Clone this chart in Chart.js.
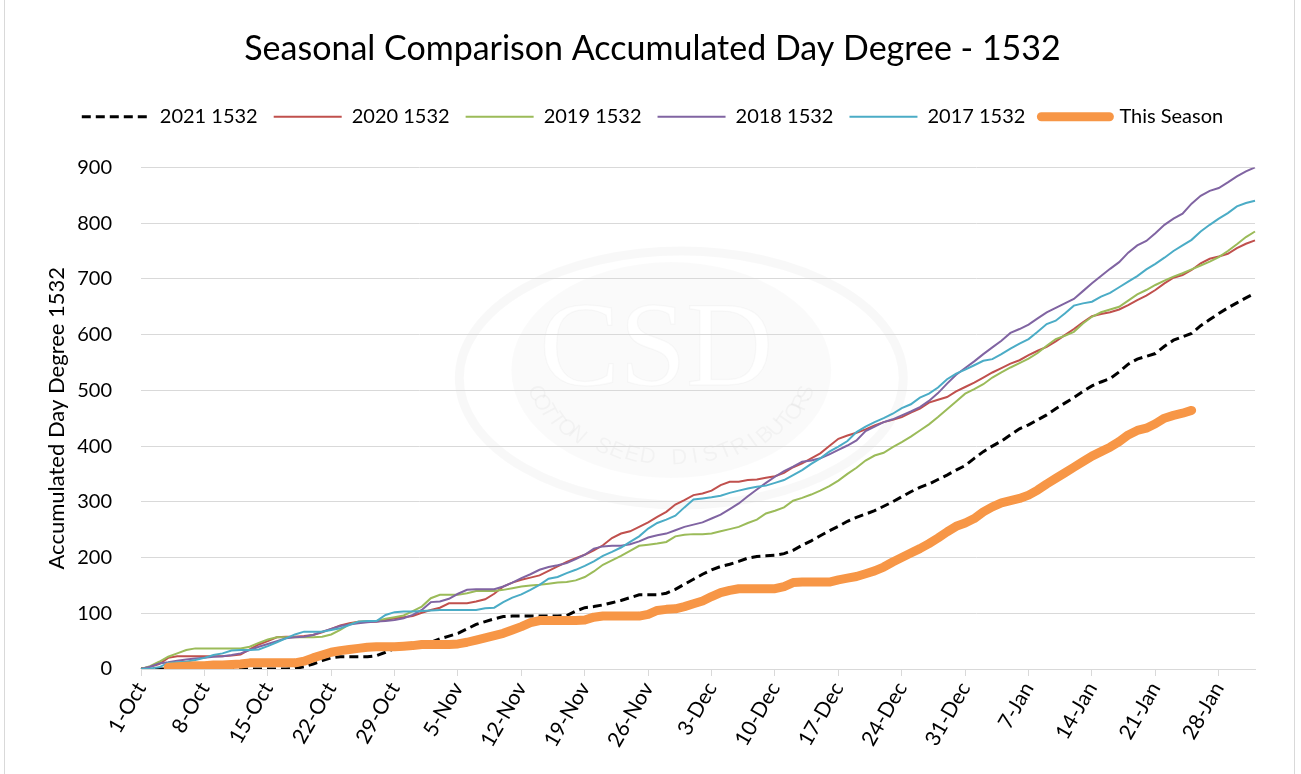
<!DOCTYPE html>
<html>
<head>
<meta charset="utf-8">
<script src="https://cdn.jsdelivr.net/npm/chart.js@4.4.0/dist/chart.umd.min.js"></script>
<style>
html,body{margin:0;padding:0;background:#fff;}
canvas{display:block;}
</style>
</head>
<body>
<canvas id="c" width="1301" height="774"></canvas>
<script>
const categories = [
'1-Oct','2-Oct','3-Oct','4-Oct','5-Oct','6-Oct','7-Oct','8-Oct','9-Oct','10-Oct','11-Oct','12-Oct','13-Oct','14-Oct','15-Oct','16-Oct','17-Oct','18-Oct','19-Oct','20-Oct','21-Oct','22-Oct','23-Oct','24-Oct','25-Oct','26-Oct','27-Oct','28-Oct','29-Oct','30-Oct','31-Oct',
'1-Nov','2-Nov','3-Nov','4-Nov','5-Nov','6-Nov','7-Nov','8-Nov','9-Nov','10-Nov','11-Nov','12-Nov','13-Nov','14-Nov','15-Nov','16-Nov','17-Nov','18-Nov','19-Nov','20-Nov','21-Nov','22-Nov','23-Nov','24-Nov','25-Nov','26-Nov','27-Nov','28-Nov','29-Nov','30-Nov',
'1-Dec','2-Dec','3-Dec','4-Dec','5-Dec','6-Dec','7-Dec','8-Dec','9-Dec','10-Dec','11-Dec','12-Dec','13-Dec','14-Dec','15-Dec','16-Dec','17-Dec','18-Dec','19-Dec','20-Dec','21-Dec','22-Dec','23-Dec','24-Dec','25-Dec','26-Dec','27-Dec','28-Dec','29-Dec','30-Dec','31-Dec',
'1-Jan','2-Jan','3-Jan','4-Jan','5-Jan','6-Jan','7-Jan','8-Jan','9-Jan','10-Jan','11-Jan','12-Jan','13-Jan','14-Jan','15-Jan','16-Jan','17-Jan','18-Jan','19-Jan','20-Jan','21-Jan','22-Jan','23-Jan','24-Jan','25-Jan','26-Jan','27-Jan','28-Jan','29-Jan','30-Jan','31-Jan',
'1-Feb'];

const tickLabels = ['1-Oct','8-Oct','15-Oct','22-Oct','29-Oct','5-Nov','12-Nov','19-Nov','26-Nov','3-Dec','10-Dec','17-Dec','24-Dec','31-Dec','7-Jan','14-Jan','21-Jan','28-Jan'];

const yTicks = [0,100,200,300,400,500,600,700,800,900];

const season2021 = [0,0,0,0,0,0,0,0,0,0,0,0,0,0,0,0,0,1,4,9,15,20,22,22,22,22,24,30,37,39,40,44,48,54,59,64,72,80,85,90,94,95,95,95,95,95,95,96,104,110,112,115,119,123,128,133,133,133,136,143,152,161,170,178,184,188,193,199,202,203,204,207,213,222,230,239,248,256,265,272,278,284,292,300,309,318,326,332,340,348,357,365,378,390,400,409,420,431,438,447,456,467,477,487,498,508,515,521,533,547,556,561,566,579,590,596,602,616,627,638,648,657,666,674];

const season2020 = [0,4,9,20,23,23,23,23,23,23,24,26,35,44,50,57,58,58,59,61,66,72,78,82,85,85,85,88,91,93,95,101,106,110,118,118,118,121,125,135,148,155,160,164,168,176,184,192,199,205,213,222,235,243,247,255,263,273,282,295,303,312,315,320,330,336,336,339,340,343,346,352,362,369,378,387,400,413,419,424,430,437,443,447,452,460,467,478,483,488,498,506,514,523,532,540,548,554,563,571,578,588,599,610,622,633,637,640,645,653,662,670,680,692,702,707,716,728,736,740,745,755,763,769];

const season2019 = [0,5,13,22,28,34,37,37,37,37,37,37,40,47,53,57,57,57,57,57,58,62,70,80,85,86,86,90,93,96,104,112,127,133,133,133,136,140,140,140,142,145,148,150,151,153,155,156,159,165,175,187,195,203,212,221,223,225,228,238,241,242,242,243,247,251,255,262,268,279,284,290,302,307,313,320,328,338,350,361,374,383,388,398,407,417,428,439,452,466,480,494,502,511,523,532,541,549,557,567,580,592,598,605,620,632,640,645,650,661,672,680,689,697,704,710,717,724,731,739,750,762,775,785];

const season2018 = [0,4,10,12,15,17,19,20,22,23,25,28,34,40,45,50,55,57,58,61,67,72,77,80,82,84,85,86,88,91,97,106,120,121,126,135,142,143,143,143,148,155,163,170,178,183,186,190,197,205,216,220,221,221,224,229,236,240,243,249,255,259,263,270,277,287,297,310,322,334,345,355,363,372,374,378,385,393,401,410,427,435,443,448,455,462,470,481,495,512,528,540,552,565,577,589,603,610,618,629,640,648,656,664,678,692,705,718,730,747,760,768,782,797,808,817,835,849,858,863,873,884,893,900];

const season2017 = [0,1,3,11,12,13,16,20,25,28,33,34,34,35,41,48,55,62,67,67,67,70,73,79,85,86,86,97,102,103,103,104,105,106,106,106,106,106,109,110,120,128,134,142,151,162,165,172,178,185,193,203,210,218,228,238,252,262,268,275,290,304,306,308,311,316,320,324,327,329,334,339,348,357,368,378,390,399,409,425,435,443,450,458,468,475,487,494,505,520,530,537,545,553,556,565,575,584,592,605,619,625,638,652,656,659,668,675,685,695,705,717,727,738,750,760,770,785,797,808,818,830,836,840];

const thisSeason = [null,null,null,3,4,5,6,6,7,7,8,9,11,11,11,11,11,11,14,20,25,30,33,35,37,39,40,40,40,41,42,44,44,44,44,45,48,52,56,60,64,70,76,83,87,87,87,87,87,88,93,95,95,95,95,95,98,105,107,108,112,117,122,130,137,141,144,144,144,144,144,148,155,156,156,156,156,160,163,166,171,176,183,192,200,208,216,225,235,246,256,262,270,282,291,298,302,306,312,321,332,342,352,362,372,382,390,398,408,420,428,432,440,450,455,459,464];

const FONT = 'Lato, Carlito, Calibri, "Noto Sans", sans-serif';
Chart.defaults.font.family = FONT;
Chart.defaults.color = '#000';

function arcText(ctx, text, cx, cy, rx, ry, startDeg, endDeg) {
  const n = text.length;
  for (let i = 0; i < n; i++) {
    const t = (startDeg + (endDeg - startDeg) * (i + 0.5) / n) * Math.PI / 180;
    const x = cx + rx * Math.cos(t);
    const y = cy + ry * Math.sin(t);
    ctx.save();
    ctx.translate(x, y);
    ctx.rotate(t - Math.PI / 2);
    ctx.fillText(text[i], 0, 0);
    ctx.restore();
  }
}

const backdrop = {
  id: 'backdrop',
  beforeDraw(chart) {
    const ctx = chart.ctx;
    const a = chart.chartArea;
    ctx.save();
    ctx.fillStyle = '#ffffff';
    ctx.fillRect(0, 0, chart.width, chart.height);
    ctx.strokeStyle = '#d9d9d9';
    ctx.lineWidth = 1;
    ctx.beginPath();
    ctx.moveTo(4.5, 0); ctx.lineTo(4.5, chart.height);
    ctx.moveTo(chart.width - 6.5, 0); ctx.lineTo(chart.width - 6.5, chart.height);
    ctx.stroke();
    // faint watermark logo
    const cx = a.left + (a.right - a.left) * 0.485;
    const cy = a.top + (a.bottom - a.top) * 0.42;
    ctx.beginPath();
    ctx.ellipse(cx, cy, 222, 127, 0, 0, Math.PI * 2);
    ctx.strokeStyle = 'rgba(0,0,0,0.028)';
    ctx.lineWidth = 9;
    ctx.stroke();
    ctx.beginPath();
    ctx.ellipse(cx - 10, cy - 8, 160, 108, 0, 0, Math.PI * 2);
    ctx.fillStyle = 'rgba(0,0,0,0.018)';
    ctx.fill();
    ctx.font = '120px "Liberation Serif", serif';
    ctx.textAlign = 'center';
    ctx.textBaseline = 'middle';
    ctx.fillStyle = 'rgba(255,255,255,0.95)';
    ctx.fillText('CSD', cx - 25, cy - 25);
    ctx.strokeStyle = 'rgba(0,0,0,0.025)';
    ctx.lineWidth = 1.5;
    ctx.strokeText('CSD', cx - 25, cy - 25);
    ctx.font = '22px "Liberation Sans", sans-serif';
    ctx.fillStyle = 'rgba(0,0,0,0.03)';
    arcText(ctx, 'COTTON SEED DISTRIBUTORS', cx - 10, cy - 8, 140, 88, 168, 12);
    ctx.restore();
  }
};

const datasets = [
  { label: 'This Season', data: thisSeason, borderColor: '#F79646', backgroundColor: '#F79646', borderWidth: 9, borderCapStyle: 'round', borderJoinStyle: 'round' },
  { label: '2017 1532', data: season2017, borderColor: '#4BACC6', backgroundColor: '#4BACC6', borderWidth: 2 },
  { label: '2018 1532', data: season2018, borderColor: '#8064A2', backgroundColor: '#8064A2', borderWidth: 2 },
  { label: '2019 1532', data: season2019, borderColor: '#9BBB59', backgroundColor: '#9BBB59', borderWidth: 2 },
  { label: '2020 1532', data: season2020, borderColor: '#C0504D', backgroundColor: '#C0504D', borderWidth: 2 },
  { label: '2021 1532', data: season2021, borderColor: '#000000', backgroundColor: '#000000', borderWidth: 3, borderDash: [9, 5] }
].map(d => Object.assign({ pointRadius: 0, pointHoverRadius: 0, tension: 0, fill: false }, d));

new Chart(document.getElementById('c'), {
  type: 'line',
  data: { labels: categories, datasets: datasets },
  plugins: [backdrop],
  options: {
    responsive: false,
    animation: false,
    events: [],
    layout: { padding: { left: 50, right: 46, top: 0, bottom: 5 } },
    plugins: {
      title: {
        display: true,
        text: 'Seasonal Comparison Accumulated Day Degree - 1532',
        color: '#000',
        font: { size: 34, weight: 'normal' },
        padding: { top: 29, bottom: 21 }
      },
      subtitle: {
        display: true, text: ' ', position: 'top', weight: 500,
        font: { size: 2, lineHeight: 1 }, padding: { top: 0, bottom: 28.6 }
      },
      legend: {
        position: 'top',
        labels: {
          usePointStyle: true,
          pointStyle: 'line',
          pointStyleWidth: 68,
          padding: 16,
          color: '#000',
          font: { size: 20 },
          sort: (a, b) => b.datasetIndex - a.datasetIndex,
          generateLabels: (chart) => {
            const items = Chart.defaults.plugins.legend.labels.generateLabels(chart);
            items.forEach(it => {
              const ds = chart.data.datasets[it.datasetIndex];
              it.lineDash = ds.borderDash || [];
              it.lineWidth = ds.borderWidth;
              it.strokeStyle = ds.borderColor;
              it.lineCap = ds.borderCapStyle || 'butt';
            });
            return items;
          }
        }
      },
      tooltip: { enabled: false }
    },
    scales: {
      x: {
        type: 'category',
        offset: false,
        grid: {
          drawOnChartArea: false,
          drawTicks: true,
          tickLength: 7,
          color: (c) => (c.index !== undefined && tickLabels.includes(categories[c.index])) ? '#d9d9d9' : 'rgba(0,0,0,0)'
        },
        border: { display: true, color: '#d9d9d9', width: 1 },
        ticks: {
          autoSkip: false,
          maxRotation: 60,
          minRotation: 60,
          padding: 2,
          color: '#000',
          font: { size: 21 },
          callback: (v, i) => tickLabels.includes(categories[i]) ? categories[i] : ''
        },
        afterFit: (s) => { s.height = 100; }
      },
      y: {
        min: yTicks[0],
        max: yTicks[yTicks.length - 1],
        ticks: { stepSize: 100, padding: 29, color: '#000', font: { size: 20 } },
        grid: { color: '#d9d9d9', drawTicks: false },
        border: { display: false },
        title: {
          display: true,
          text: 'Accumulated Day Degree 1532',
          color: '#000',
          font: { size: 22 },
          padding: { top: -6, bottom: 0 }
        },
        afterFit: (s) => { s.width = 91; }
      }
    }
  }
});
</script>
</body>
</html>
